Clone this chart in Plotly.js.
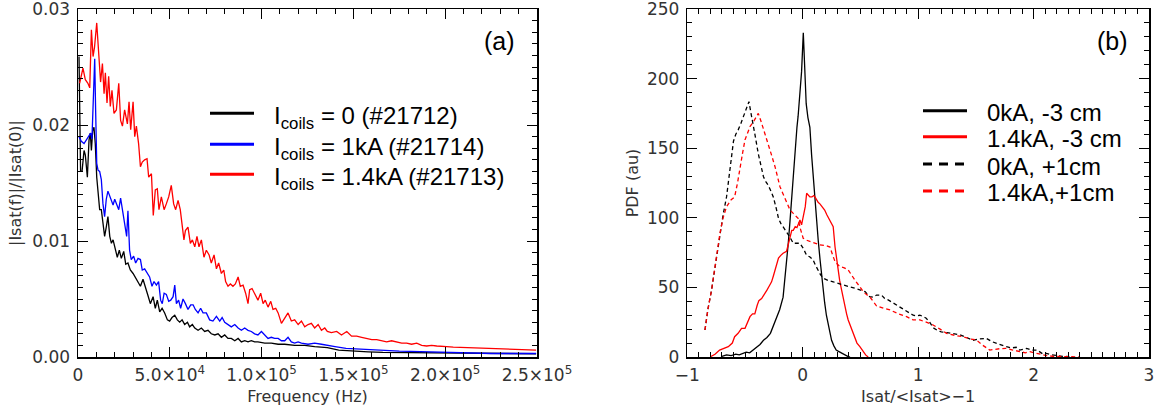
<!DOCTYPE html>
<html><head><meta charset="utf-8">
<script src="https://cdn.plot.ly/plotly-3.0.1.min.js"></script>
<style>html,body{margin:0;padding:0;background:#fff}</style>
</head><body><div id="chart" style="width:1155px;height:406px"></div>
<script>
// ---------- Panel (a): spectra ----------
const freqBlack = [550,1400,2200,3300,4000,5100,6000,6700,7300,8000,8700,9400,10200,10900,11800,12700,13600,14500,15400,16300,17300,18200,19100,20300,21400,22500,23600,24900,26000,27200,28500,30000,31200,32700,34000,35400,36700,38100,39400,40900,42100,43200,44500,45800,47200,48700,49900,51200,52700,54100,55400,56700,58100,59600,60800,62300,63600,65400,67200,69000,70800,72600,74500,76300,78100,79900,81700,83500,85400,87200,89000,90800,92600,94400,96200,98000,101700,105300,109000,112600,118000,123500,128900,135800,142000,150000,158000,166000,175000,185000,195000,205000,215000,225000,235000,249500];
const ampBlack = [0.0259,0.0160,0.0160,0.0178,0.0174,0.0155,0.0187,0.0193,0.0178,0.0195,0.0198,0.0184,0.0155,0.0144,0.0127,0.0127,0.0115,0.0104,0.0112,0.0121,0.0104,0.0098,0.0101,0.0092,0.0086,0.0092,0.0085,0.0091,0.0080,0.0081,0.0075,0.0072,0.0069,0.0065,0.0061,0.0067,0.0061,0.0053,0.0046,0.0052,0.0042,0.0049,0.0039,0.0042,0.0038,0.0032,0.0031,0.0034,0.0036,0.0032,0.0030,0.0032,0.0028,0.0030,0.0026,0.0028,0.0025,0.0023,0.0025,0.0022,0.0023,0.0020,0.0019,0.0020,0.0017,0.0019,0.0016,0.0016,0.0014,0.0016,0.0013,0.0014,0.0013,0.0014,0.0013,0.0013,0.0012,0.0012,0.0011,0.0011,0.0010,0.0010,0.0009,0.0008,0.0006,0.0005,0.00045,0.0004,0.00038,0.00036,0.00035,0.00032,0.0003,0.0003,0.00028,0.00028];

const freqBlue = [550,1800,3300,4500,5800,6900,7600,8400,9100,9600,10200,10900,11800,12700,13600,14500,15400,16300,17300,18200,19100,20000,21200,22200,23200,24200,25400,26500,27200,28100,29000,30300,31400,32700,34000,35000,36300,37600,39000,40300,41400,42700,43900,45000,45900,46900,48100,49400,50500,51800,52700,53600,54800,55900,57200,58500,59900,61400,62700,63900,65400,66800,68100,69900,71700,73500,75400,77200,78500,79900,81700,83500,85400,87200,89000,90800,92600,94400,96200,98000,99900,101700,103500,105300,107100,109000,110800,112600,114400,116200,118000,119900,121700,125300,128900,132600,135800,140000,146000,152000,157000,163000,169000,175000,181000,187000,193000,200000,206000,212000,218000,225000,231000,237000,243000,249500];
const ampBlue = [0.0190,0.0186,0.0184,0.0187,0.0191,0.0193,0.0188,0.0224,0.0257,0.0213,0.0167,0.0161,0.0160,0.0153,0.0132,0.0121,0.0136,0.0143,0.0138,0.0134,0.0131,0.0136,0.0130,0.0127,0.0137,0.0127,0.0112,0.0104,0.0126,0.0092,0.0084,0.0087,0.0081,0.0085,0.0084,0.0075,0.0076,0.0072,0.0069,0.0061,0.0065,0.0062,0.0065,0.0049,0.0046,0.0055,0.0054,0.0048,0.0049,0.0052,0.0062,0.0046,0.0049,0.0042,0.0050,0.0046,0.0041,0.0045,0.0045,0.0041,0.0038,0.0042,0.0038,0.0038,0.0032,0.0031,0.0035,0.0031,0.0034,0.0030,0.0028,0.0026,0.0028,0.0025,0.0023,0.0025,0.0023,0.0022,0.0020,0.0019,0.0022,0.0019,0.0016,0.0017,0.0016,0.0016,0.0014,0.0014,0.0017,0.0013,0.0012,0.0013,0.0012,0.0011,0.0012,0.0011,0.0010,0.0009,0.00075,0.0007,0.0006,0.00058,0.00055,0.0005,0.00048,0.00045,0.0004,0.0004,0.00037,0.00032,0.00033,0.0003,0.0003,0.00028,0.0003,0.0003];

const freqRed = [900,2700,4000,5400,6400,7300,8200,9000,10200,11300,12300,13300,14200,14900,15800,16700,17600,18500,19600,20900,22200,23200,24200,25400,26900,27800,28700,30000,30900,31800,33000,34000,35000,36300,37600,38500,40000,41000,42100,43200,44100,45400,46900,48100,49400,50800,52100,53200,54500,55700,56800,57700,58500,59900,61200,62300,63600,64800,65900,67200,68600,69900,71400,72600,74100,75400,76600,78100,79400,80400,81700,83000,84400,85700,87200,88400,89900,91300,92600,93500,94800,96200,98000,99500,100800,102000,103500,105000,106200,107700,109000,110800,112600,114400,116200,118000,119900,121700,123500,125300,127100,128900,130800,132600,134400,135800,138000,140900,143500,146400,149000,151800,154500,157300,160000,162700,165400,168100,170800,173600,176300,179000,181700,184500,187200,189900,192600,195400,198100,200800,204400,208000,211600,215300,219000,222600,226200,229800,233500,237100,240700,244400,247000,249500];
const ampRed = [0.0236,0.0249,0.0239,0.0236,0.0232,0.0282,0.0259,0.0267,0.0288,0.0265,0.0237,0.0253,0.0227,0.0245,0.0219,0.0242,0.0216,0.0230,0.0210,0.0213,0.0236,0.0204,0.0199,0.0213,0.0201,0.0220,0.0196,0.0220,0.0190,0.0199,0.0184,0.0164,0.0168,0.0170,0.0171,0.0155,0.0158,0.0122,0.0144,0.0145,0.0127,0.0138,0.0127,0.0132,0.0138,0.0148,0.0132,0.0127,0.0135,0.0127,0.0115,0.0101,0.0109,0.0112,0.0098,0.0101,0.0095,0.0104,0.0095,0.0101,0.0086,0.0092,0.0088,0.0081,0.0088,0.0076,0.0081,0.0072,0.0075,0.0065,0.0061,0.0063,0.0061,0.0063,0.0069,0.0061,0.0062,0.0055,0.0046,0.0058,0.0059,0.0055,0.0049,0.0055,0.0046,0.0049,0.0043,0.0048,0.0041,0.0042,0.0038,0.0029,0.0033,0.0038,0.0031,0.0032,0.0028,0.0031,0.0026,0.0028,0.0029,0.0025,0.0028,0.0023,0.0025,0.0022,0.0021,0.0022,0.0019,0.0022,0.0018,0.0018,0.0017,0.0016,0.0015,0.0015,0.0014,0.0013,0.0014,0.0013,0.0012,0.0012,0.0011,0.0012,0.0010,0.00095,0.0010,0.00095,0.0009,0.0009,0.00085,0.00083,0.0008,0.0008,0.00078,0.00075,0.00076,0.00075,0.0007,0.00066,0.00068,0.00066,0.00062,0.0006];

const freqTickVals = [0,50000,100000,150000,200000,250000];
const freqTickText = ['0','5.0×10<sup>4</sup>','1.0×10<sup>5</sup>','1.5×10<sup>5</sup>','2.0×10<sup>5</sup>','2.5×10<sup>5</sup>'];
const ampTickVals = [0,0.01,0.02,0.03];
const ampTickText = ['0.00','0.01','0.02','0.03'];
const namesA = ['I<sub>coils</sub> = 0 (#21712)','I<sub>coils</sub> = 1kA (#21714)','I<sub>coils</sub> = 1.4kA (#21713)'];

// ---------- Panel (b): PDFs ----------
const xBlackSolid = [-0.70,-0.66,-0.62,-0.58,-0.55,-0.52,-0.49,-0.46,-0.43,-0.40,-0.37,-0.34,-0.31,-0.28,-0.255,-0.23,-0.20,-0.17,-0.155,-0.14,-0.125,-0.11,-0.096,-0.08,-0.068,-0.05,-0.04,-0.024,-0.01,0.005,0.018,0.03,0.045,0.062,0.077,0.092,0.106,0.12,0.134,0.15,0.163,0.178,0.19,0.205,0.22,0.235,0.25,0.27,0.29,0.31,0.33,0.35,0.37,0.39,0.41];
const pdfBlackSolid = [0.5,1.5,1,2,1.5,2.5,3.5,3,5,7,9,12,14,17,22,28,34,43,55,65,82,98,115,130,146,165,173,192,205,233,200,182,172,165,145,128,114,98,84,70,58,47,39,30,24,17,12,8,5,4,3,2.5,1,0.5,0];

const xRedSolid = [-0.80,-0.76,-0.72,-0.68,-0.645,-0.61,-0.59,-0.56,-0.53,-0.50,-0.475,-0.457,-0.435,-0.415,-0.395,-0.38,-0.356,-0.33,-0.31,-0.29,-0.27,-0.255,-0.24,-0.225,-0.21,-0.19,-0.17,-0.14,-0.125,-0.11,-0.095,-0.082,-0.065,-0.05,-0.035,-0.024,-0.01,0.01,0.022,0.034,0.048,0.062,0.08,0.095,0.106,0.12,0.135,0.149,0.165,0.19,0.21,0.236,0.25,0.264,0.28,0.293,0.307,0.32,0.337,0.35,0.365,0.38,0.394,0.41,0.42,0.436,0.452,0.47,0.495,0.52,0.545,0.567];
const pdfRedSolid = [0.2,2,5,6,7.4,10,14.6,17,20.6,20.6,25,29,31,31,37,40.5,42,45,48,51,54,58,62.5,66,71,73,74.5,76,82,86,91,91,93.6,93,96,98.4,95,102,108,117.6,116,115,115,116,115,113,111,110,108,105.6,102,98.4,96,93.6,79,70,62.5,55,48,42,36,31,26.6,23,20.6,17,13.4,10,7.4,4,1.5,0];

const xBlackDash = [-0.847,-0.82,-0.79,-0.75,-0.717,-0.69,-0.66,-0.63,-0.60,-0.58,-0.56,-0.535,-0.515,-0.49,-0.466,-0.45,-0.43,-0.41,-0.385,-0.36,-0.34,-0.32,-0.30,-0.28,-0.255,-0.23,-0.21,-0.19,-0.17,-0.14,-0.11,-0.082,-0.05,-0.024,0.005,0.034,0.06,0.09,0.11,0.134,0.155,0.18,0.22,0.264,0.31,0.35,0.40,0.45,0.50,0.54,0.58,0.61,0.64,0.683,0.71,0.74,0.79,0.84,0.9,0.957,0.986,1.015,1.045,1.07,1.10,1.13,1.17,1.2,1.25,1.30,1.36,1.42,1.476,1.53,1.59,1.64,1.68,1.71,1.765,1.81,1.85,1.88,1.94,1.98,2.03,2.08,2.11,2.16,2.2,2.25,2.31];
const pdfBlackDash = [19.4,35,48,70,89,102,115,135,155,160,163,168,172.6,178,183.4,176,168,158,146,137,129.5,126,123.5,120,115,107,99.6,96,93.6,90,86,81.7,82,81.7,78,73,72,69.7,66,62.5,59,56.5,55,54,53,51.7,50.5,49.4,48,47,43.3,43,44.5,44.5,42,41,38.5,36,33,30,29.5,30,29,27.8,25,21,19,18,17.5,17,16,14,12,13,13.4,11,9.8,8.6,7.4,6.5,7,5,6.2,5,5,2.2,2.6,1.5,1,0.5,0.2];

const xRedDash = [-0.847,-0.82,-0.79,-0.75,-0.717,-0.69,-0.66,-0.62,-0.59,-0.565,-0.544,-0.52,-0.50,-0.48,-0.457,-0.42,-0.385,-0.36,-0.34,-0.32,-0.30,-0.27,-0.24,-0.22,-0.197,-0.175,-0.154,-0.13,-0.11,-0.08,-0.04,-0.02,0.004,0.03,0.062,0.1,0.149,0.2,0.236,0.26,0.28,0.32,0.36,0.394,0.42,0.452,0.49,0.524,0.55,0.58,0.61,0.64,0.7,0.755,0.83,0.90,0.957,1.015,1.07,1.13,1.19,1.246,1.32,1.39,1.45,1.506,1.55,1.578,1.62,1.71,1.76,1.82,1.88,1.93,1.967,2.03,2.07,2.11,2.17,2.26,2.40];
const pdfRedDash = [19.4,35,48,70,89,100,108,113,115,125,136.7,147,156,161,165.5,170,175,169,164,159,153.5,145,136.7,129,122.3,118,114,110,105.6,103,99.6,92,85.3,84,83,82,80.5,80,79,73,68.5,65,64,62.5,59,55.3,51,47,45,43.3,40,36.6,35,33.8,31,29,26.6,26.6,25,23,20,17,15.5,14.6,13,12.2,9,7.4,5,6,6.2,5,3.8,3,3.8,2.6,2,1,0.5,0.2,0];

const namesB = ['0kA, -3 cm','1.4kA, -3 cm','0kA, +1cm','1.4kA,+1cm'];

// ---------- helpers ----------
const W = 1155, H = 406;
const px = x => x / W;
const py = y => 1 - y / H;
const tickFont = {family:'DejaVu Sans', size:17, color:'#333'};
const titleFont = {family:'DejaVu Sans', size:16, color:'#333'};
const axBase = {showline:true, linecolor:'black', linewidth:1.5, mirror:'allticks', ticks:'inside',
  ticklen:10, tickwidth:1, tickcolor:'black', showgrid:false, zeroline:false, tickfont:tickFont,
  ticklabeloverflow:'allow', fixedrange:true};
const minorBase = {ticklen:5, ticks:'inside', tickcolor:'black', tickwidth:1};

const traces = [
  {x:freqBlack, y:ampBlack, xaxis:'x', yaxis:'y', mode:'lines', line:{color:'black', width:1.3}, name:namesA[0], showlegend:false},
  {x:freqBlue, y:ampBlue, xaxis:'x', yaxis:'y', mode:'lines', line:{color:'#0000ff', width:1.3}, name:namesA[1], showlegend:false},
  {x:freqRed, y:ampRed, xaxis:'x', yaxis:'y', mode:'lines', line:{color:'#ff0000', width:1.3}, name:namesA[2], showlegend:false},
  {x:xBlackSolid, y:pdfBlackSolid, xaxis:'x2', yaxis:'y2', mode:'lines', line:{color:'black', width:1.3}, name:namesB[0], showlegend:false},
  {x:xRedSolid, y:pdfRedSolid, xaxis:'x2', yaxis:'y2', mode:'lines', line:{color:'#ff0000', width:1.3}, name:namesB[1], showlegend:false},
  {x:xBlackDash, y:pdfBlackDash, xaxis:'x2', yaxis:'y2', mode:'lines', line:{color:'black', width:1.3, dash:'4px,3px'}, name:namesB[2], showlegend:false},
  {x:xRedDash, y:pdfRedDash, xaxis:'x2', yaxis:'y2', mode:'lines', line:{color:'#ff0000', width:1.3, dash:'4px,3px'}, name:namesB[3], showlegend:false}
];

const yDom = [py(357), py(9)];
const layout = {
  width:W, height:H, autosize:false, margin:{l:0,r:0,t:0,b:0},
  paper_bgcolor:'white', plot_bgcolor:'white', showlegend:false,
  font:{family:'DejaVu Sans', color:'#333'},
  xaxis: Object.assign({}, axBase, {domain:[px(78), px(537)], range:[0,250000], anchor:'y',
    tickmode:'array', tickvals:freqTickVals, ticktext:freqTickText, ticklabelstandoff:2,
    minor:Object.assign({dtick:10000}, minorBase),
    title:{text:'Frequency (Hz)', font:titleFont, standoff:11}}),
  yaxis: Object.assign({}, axBase, {domain:yDom, range:[0,0.03], anchor:'x',
    tickmode:'array', tickvals:ampTickVals, ticktext:ampTickText, ticklabelstandoff:3,
    minor:Object.assign({dtick:0.001}, minorBase),
    title:{text:'|Isat(f)|/|Isat(0)|', font:titleFont, standoff:6}}),
  xaxis2: Object.assign({}, axBase, {domain:[px(687.3), px(1149)], range:[-1,3], anchor:'y2',
    tickmode:'linear', tick0:-1, dtick:1, ticklabelstandoff:2,
    minor:Object.assign({dtick:0.1}, minorBase),
    title:{text:'Isat/&lt;Isat&gt;−1', font:titleFont, standoff:11}}),
  yaxis2: Object.assign({}, axBase, {domain:yDom, range:[0,250], anchor:'x2',
    tickmode:'linear', tick0:0, dtick:50, ticklabelstandoff:3,
    minor:Object.assign({dtick:10}, minorBase),
    title:{text:'PDF (au)', font:titleFont, standoff:4}}),
  shapes: [],
  annotations: [
    {xref:'paper', yref:'paper', x:px(499), y:py(41), text:'(a)', showarrow:false, xanchor:'center', yanchor:'middle',
     font:{family:'Liberation Sans', size:25, color:'black'}},
    {xref:'paper', yref:'paper', x:px(1112), y:py(41), text:'(b)', showarrow:false, xanchor:'center', yanchor:'middle',
     font:{family:'Liberation Sans', size:25, color:'black'}}
  ]
};

// legend (a)
const legAColors = ['black','#0000ff','#ff0000'];
const legARows = [113.3, 144.3, 174.3];
legARows.forEach((yy,i) => {
  layout.shapes.push({type:'line', xref:'paper', yref:'paper', x0:px(210), x1:px(254), y0:py(yy), y1:py(yy),
    line:{color:legAColors[i], width:3}});
  layout.annotations.push({xref:'paper', yref:'paper', x:px(272), y:py(yy+4), text:namesA[i], showarrow:false,
    xanchor:'left', yanchor:'middle', font:{family:'Liberation Sans', size:24, color:'black'}});
});
// legend (b)
const legBColors = ['black','#ff0000','black','#ff0000'];
const legBDash = ['solid','solid','9px,7px','9px,7px'];
const legBRows = [110.7, 136.7, 164, 191];
legBRows.forEach((yy,i) => {
  layout.shapes.push({type:'line', xref:'paper', yref:'paper', x0:px(923), x1:px(967), y0:py(yy), y1:py(yy),
    line:{color:legBColors[i], width:3, dash:legBDash[i]}});
  layout.annotations.push({xref:'paper', yref:'paper', x:px(985), y:py(yy+2), text:namesB[i], showarrow:false,
    xanchor:'left', yanchor:'middle', font:{family:'Liberation Sans', size:24, color:'black'}});
});

Plotly.newPlot('chart', traces, layout, {displayModeBar:false, staticPlot:true});
</script>
</body></html>
